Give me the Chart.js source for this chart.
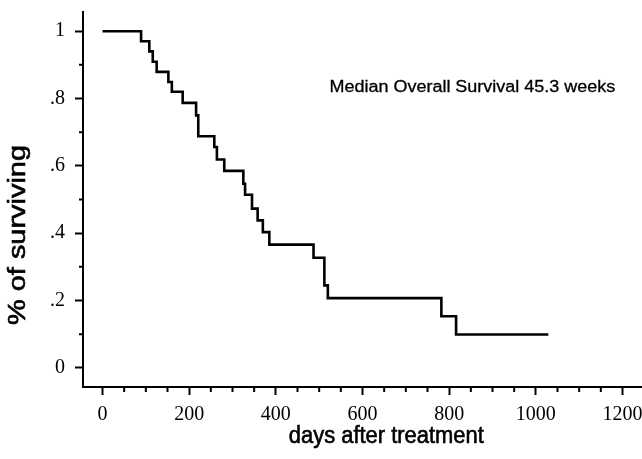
<!DOCTYPE html>
<html>
<head>
<meta charset="utf-8">
<script src="https://cdn.jsdelivr.net/npm/chart.js@4.4.1/dist/chart.umd.min.js"></script>
<style>
    html, body { margin: 0; padding: 0; background: #fff; }
    #wrap { width: 642px; height: 459px; }
</style>
</head>
<body>
<div id="wrap"><canvas id="grafico"></canvas></div>
<script>
// Kaplan-Meier curve
const dias = [0, 89, 108, 116, 125, 152, 160, 185, 216, 221, 258, 264, 281, 325, 329, 345, 358, 370, 385, 487, 512, 520, 782, 816, 1029];
const supervivencia = [1, 0.97, 0.94, 0.909, 0.879, 0.849, 0.82, 0.787, 0.75, 0.688, 0.656, 0.619, 0.585, 0.547, 0.514, 0.473, 0.438, 0.403, 0.366, 0.327, 0.245, 0.207, 0.153, 0.099, 0.099];

const ticksX = [0, 200, 400, 600, 800, 1000, 1200];
const ticksY = [0, 0.2, 0.4, 0.6, 0.8, 1];
const etiquetasY = ['0', '.2', '.4', '.6', '.8', '1'];
const menoresX = [50, 100, 150, 250, 300, 350, 450, 500, 550, 650, 700, 750, 850, 900, 950, 1050, 1100, 1150, 1250];
const menoresY = [0.1, 0.3, 0.5, 0.7, 0.9];
const nota = 'Median Overall Survival 45.3 weeks';
const tituloX = 'days after treatment';
const tituloY = '% of surviving';

const SANS = '"Liberation Sans", Arial, sans-serif';
const SERIF = '"Liberation Serif", "Times New Roman", serif';

// text squeezed/stretched to a given width, centred on (cx, cy)
function textoAncho(ctx, txt, cx, cy, ancho, size, rot, grosor) {
    ctx.save();
    ctx.font = size + 'px ' + SANS;
    const w = ctx.measureText(txt).width;
    ctx.translate(cx, cy);
    if (rot) ctx.rotate(rot);
    ctx.scale(ancho / w, 1);
    ctx.textAlign = 'center';
    ctx.textBaseline = 'middle';
    ctx.fillStyle = '#000';
    ctx.fillText(txt, 0, 0);
    if (grosor) {
        ctx.strokeStyle = '#000';
        ctx.lineWidth = grosor;
        ctx.strokeText(txt, 0, 0);
    }
    ctx.restore();
}

// minor ticks + texts
const extras = {
    id: 'extras',
    afterDraw(chart) {
        const ctx = chart.ctx;
        const x = chart.scales.x, y = chart.scales.y;
        const area = chart.chartArea;
        ctx.save();
        ctx.strokeStyle = '#000';
        ctx.lineWidth = 2;
        ctx.beginPath();
        menoresX.forEach(v => {
            const px = x.getPixelForValue(v);
            if (px > area.right) return;
            ctx.moveTo(px, area.bottom);
            ctx.lineTo(px, area.bottom + 5);
        });
        menoresY.forEach(v => {
            const py = y.getPixelForValue(v);
            ctx.moveTo(area.left, py);
            ctx.lineTo(area.left - 4, py);
        });
        ctx.stroke();
        ctx.restore();

        const x0 = x.getPixelForValue(524), x1 = x.getPixelForValue(1183);
        textoAncho(ctx, nota, (x0 + x1) / 2, 88, x1 - x0, 16, 0, 0.3);

        const t0 = x.getPixelForValue(430), t1 = x.getPixelForValue(880);
        textoAncho(ctx, tituloX, (t0 + t1) / 2, 437, t1 - t0, 23, 0, 0.6);

        textoAncho(ctx, tituloY, 19, 235, 180, 23, -Math.PI / 2, 0.6);
    }
};

new Chart(document.getElementById('grafico'), {
    type: 'line',
    data: {
        labels: dias,
        datasets: [{
            label: 'Survival',
            data: dias.map((d, i) => ({ x: d, y: supervivencia[i] })),
            borderColor: '#000',
            borderWidth: 2.6,
            stepped: 'before',
            pointRadius: 0,
            fill: false
        }]
    },
    options: {
        responsive: true,
        maintainAspectRatio: false,
        animation: false,
        layout: { padding: { top: 12, left: 0, right: 0, bottom: 0 } },
        plugins: {
            legend: { display: false },
            tooltip: { enabled: false }
        },
        scales: {
            x: {
                type: 'linear',
                min: -45,
                max: 1245,
                afterBuildTicks: s => { s.ticks = ticksX.map(v => ({ value: v })); },
                afterFit: s => { s.height = 72; s.paddingLeft = 0; s.paddingRight = 0; },
                grid: { display: true, drawOnChartArea: false, drawTicks: true, tickLength: 8, tickColor: '#000', tickWidth: 2 },
                border: { display: true, color: '#000', width: 2 },
                ticks: {
                    color: '#000',
                    padding: 8,
                    maxRotation: 0,
                    autoSkip: false,
                    font: { family: SERIF, size: 20 },
                    callback: v => String(v)
                }
            },
            y: {
                type: 'linear',
                min: -0.057,
                max: 1.057,
                afterBuildTicks: s => { s.ticks = ticksY.map(v => ({ value: v })); },
                afterFit: s => { s.width = 83; s.paddingTop = 0; s.paddingBottom = 0; },
                grid: { display: true, drawOnChartArea: false, drawTicks: true, tickLength: 8, tickColor: '#000', tickWidth: 2 },
                border: { display: true, color: '#000', width: 2 },
                ticks: {
                    color: '#000',
                    padding: 10,
                    autoSkip: false,
                    font: { family: SERIF, size: 20 },
                    callback: v => etiquetasY[ticksY.indexOf(v)]
                }
            }
        }
    },
    plugins: [extras]
});
</script>
</body>
</html>
